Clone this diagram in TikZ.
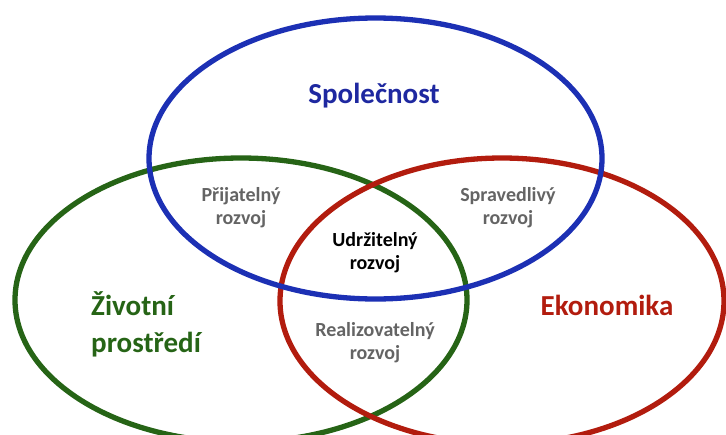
\documentclass[tikz,border=0pt]{standalone}
\usepackage{fontspec}
\setmainfont{Carlito}
\definecolor{cblue}{RGB}{28,48,180}
\definecolor{cgreen}{RGB}{38,100,22}
\definecolor{cred}{RGB}{178,28,14}
\definecolor{cgray}{RGB}{100,100,100}
\definecolor{ctblue}{RGB}{30,40,160}
\begin{document}
\begin{tikzpicture}[x=1pt,y=-1pt,
  ring/.style={line width=5.3pt},
  big/.style={font=\fontsize{29}{37}\selectfont\bfseries, inner sep=0pt},
  small/.style={font=\fontsize{20}{23}\selectfont\bfseries, text=cgray, align=center, inner sep=0pt}]
\useasboundingbox (0,0) rectangle (726,434);
\begin{scope}
\clip (0,0) rectangle (726,434);
\draw[ring, cgreen] (241,300) ellipse [x radius=226, y radius=142];
\draw[ring, cred] (502,301) ellipse [x radius=222, y radius=143];
\draw[ring, cblue] (375.5,158.5) ellipse [x radius=226.5, y radius=140.5];
\end{scope}
\node[big, text=ctblue, anchor=base] (spol) at (374,103) {Společnost};
\node[big, text=cgreen, align=left, anchor=west] (ziv) at (91,324.5) {Životní\\prostředí};
\node[big, text=cred, anchor=base] (eko) at (607,315) {Ekonomika};
\node[small] (prij) at (241,208) {Přijatelný\\rozvoj};
\node[small] (sprav) at (508,208) {Spravedlivý\\rozvoj};
\node[small, text=black] (udr) at (375,253) {Udržitelný\\rozvoj};
\node[small] (real) at (375,343) {Realizovatelný\\rozvoj};
\end{tikzpicture}
\end{document}
